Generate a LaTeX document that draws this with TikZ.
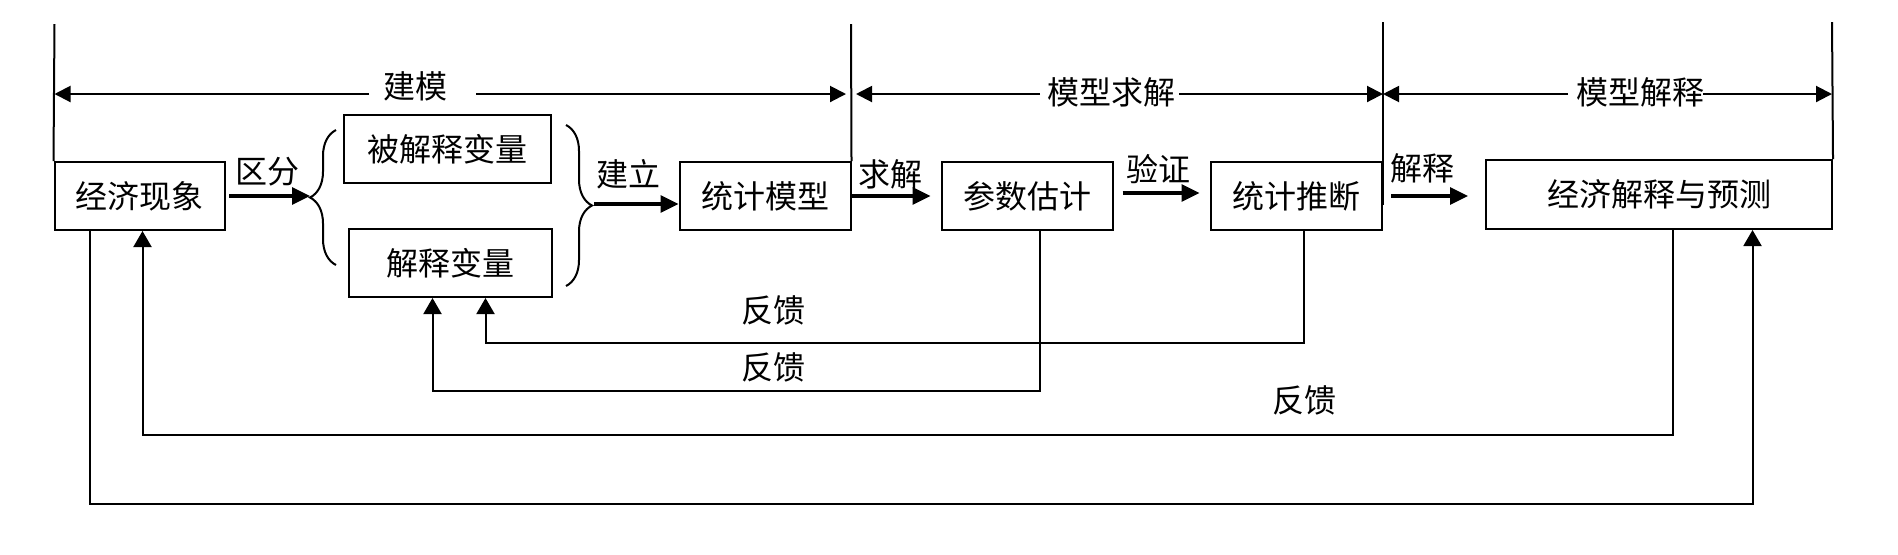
\documentclass[tikz,border=0pt]{standalone}
\usepackage{fontspec}
\newfontfamily\cjk{Noto Sans CJK SC}
\usetikzlibrary{arrows.meta,decorations.pathreplacing}
\begin{document}
\begin{tikzpicture}[x=0.5pt,y=-0.5pt,
  txt/.style={font=\cjk\fontsize{16}{16}\selectfont},
  box/.style={draw, line width=1pt, inner sep=0pt, txt, minimum height=34pt},
  lbl/.style={inner sep=0pt, txt},
  flow/.style={line width=1.6pt, -{Triangle[length=9pt,width=8.5pt]}},
  fb/.style={line width=1pt, -{Triangle[length=8pt,width=9pt]}},
  span/.style={line width=1pt, -{Triangle[length=8pt,width=8pt]}},
  rule/.style={line width=1pt},
  brc/.style={line width=1pt, decorate, decoration={brace, amplitude=13pt}}]
\useasboundingbox (0,0) rectangle (1898,554);

% boxes
\node[box, minimum width=85.25pt] (jjxx) at (139.75,196) {经济现象};
\node[box, minimum width=103.5pt] (bjs) at (447.5,149) {被解释变量};
\node[box, minimum width=101.5pt] (js) at (450.5,263) {解释变量};
\node[box, minimum width=85.5pt] (tjmx) at (765,196) {统计模型};
\node[box, minimum width=85.5pt] (cs) at (1027,196) {参数估计};
\node[box, minimum width=85.5pt] (tj) at (1296,196) {统计推断};
\node[box, minimum width=173pt, minimum height=34.5pt] (jjys) at (1659,194.5) {经济解释与预测};

% braces
\draw[brc] (336,265) -- (336,130);
\draw[brc] (566,125) -- (566,286);
\coordinate (lb) at (310,196);
\coordinate (rb) at (594,204);

% flow arrows
\draw[flow] ([xshift=1.5pt]jjxx.east) -- (lb);
\node[lbl] (l1) at (267,172) {区分};
\draw[flow] (rb) -- (tjmx.west |- rb);
\node[lbl] (l2) at (628,174) {建立};
\draw[flow] (tjmx.east) -- ([xshift=-5pt]cs.west);
\node[lbl] (l3) at (890,174) {求解};
\draw[flow] ([xshift=4.5pt,yshift=1.5pt]cs.east) -- ([xshift=-5pt,yshift=1.5pt]tj.west);
\node[lbl] (l4) at (1158,169) {验证};
\draw[flow] ([xshift=4.25pt]tj.east) -- ([xshift=-8.5pt]jjys.west |- tj.east);
\node[lbl] (l5) at (1422,168) {解释};

% top vertical rules
\coordinate (v1) at (54.5,24);
\coordinate (v2) at (851,24);
\coordinate (v3) at (1383,22);
\coordinate (v4) at (1832,22);
\draw[rule] (v1) -- (jjxx.north west);
\draw[rule] (v2) -- (tjmx.north east);
\draw[rule] (v3) -- (1383,205);
\draw[rule] (v4) -- (jjys.north east);

% span arrows
\coordinate (r) at (0,94);
\node[lbl] (s1) at (415,86) {建模};
\node[lbl] (s2) at (1111,92) {模型求解};
\node[lbl] (s3) at (1640,92) {模型解释};
\coordinate (g1a) at (369,94);
\coordinate (g1b) at (476,94);
\coordinate (g2a) at (1040,94);
\coordinate (g2b) at (1179,94);
\coordinate (g3a) at (1568,94);
\coordinate (g3b) at (1703,94);
\draw[span] (g1a) -- (v1 |- r);
\draw[span] (g1b) -- ([xshift=-2.5pt]v2 |- r);
\draw[span] (g2a) -- ([xshift=2.5pt]v2 |- r);
\draw[span] (g2b) -- (v3 |- r);
\draw[span] (g3a) -- (v3 |- r);
\draw[span] (g3b) -- (v4 |- r);

% feedback loops
\coordinate (f1) at (1304,343);   \coordinate (f1e) at (485.5,343);
\coordinate (f2) at (1040,391);   \coordinate (f2e) at (432.5,391);
\coordinate (f3) at (1673,434.5); \coordinate (f3e) at (142.5,434.5);
\coordinate (f4) at (89.6,503.5); \coordinate (f4e) at (1752.5,503.5);
\draw[fb] (tj.south -| f1) |- (f1e) -- (js.south -| f1e);
\draw[fb] (cs.south -| f2) |- (f2e) -- (js.south -| f2e);
\draw[fb] (jjys.south -| f3) |- (f3e) -- (jjxx.south -| f3e);
\draw[fb] (jjxx.south -| f4) |- (f4e) -- (jjys.south -| f4e);
\node[lbl] (fl1) at (773,310) {反馈};
\node[lbl] (fl2) at (773,367.5) {反馈};
\node[lbl] (fl3) at (1304,400.5) {反馈};
\end{tikzpicture}
\end{document}
